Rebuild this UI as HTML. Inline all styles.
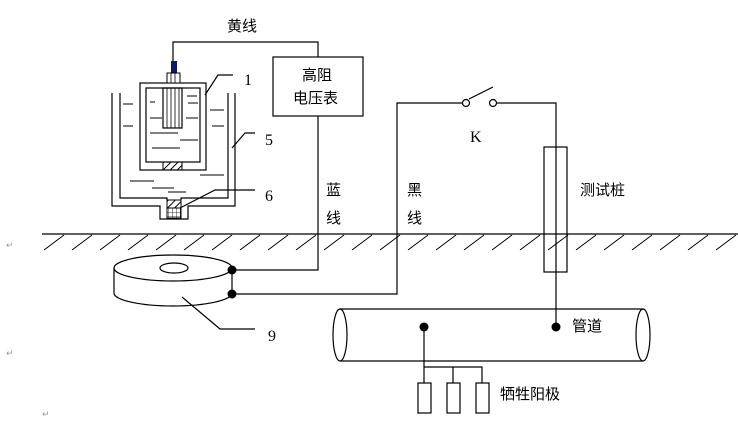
<!DOCTYPE html>
<html><head><meta charset="utf-8"><style>
html,body{margin:0;padding:0;background:#fff;}
svg{display:block;}
text{font-family:"Liberation Sans","Noto Sans CJK SC",sans-serif;font-size:15px;fill:#000;}
.s{font-family:"Liberation Serif",serif;font-size:16px;}
.r{font-size:9px;fill:#999;}
</style></head><body>
<svg width="738" height="426" viewBox="0 0 738 426" xmlns="http://www.w3.org/2000/svg">
<defs>
<pattern id="h" width="5" height="5" patternUnits="userSpaceOnUse" patternTransform="rotate(45)"><line x1="0" y1="0" x2="0" y2="5" stroke="#000" stroke-width="2"/></pattern>
<pattern id="g" width="4" height="4" patternUnits="userSpaceOnUse"><path d="M0 0H4M0 0V4" stroke="#000" stroke-width="0.8" fill="none"/></pattern>
</defs>
<g stroke="#000" stroke-width="1.2" fill="none">
<!-- ground -->
<line x1="42" y1="234" x2="738" y2="234"/>
<g id="hatch">
<path d="M44 250l20-15M72 250l20-15M100 250l20-15M128 250l20-15M156 250l20-15M184 250l20-15M212 250l20-15M240 250l20-15M268 250l20-15M296 250l20-15M324 250l20-15M352 250l20-15M380 250l20-15M408 250l20-15M436 250l20-15M464 250l20-15M492 250l20-15M520 250l20-15M548 250l20-15M576 250l20-15M604 250l20-15M632 250l20-15M660 250l20-15M688 250l20-15M716 250l20-15" stroke-width="1"/>
</g>
<!-- outer vessel -->
<path d="M112 93V206H160V219H188V206H235V93"/>
<path d="M120 93V198H167V200M181 200V198H228V93"/>
<!-- inner vessel -->
<rect x="140" y="83" width="66" height="87"/>
<rect x="146" y="88" width="54" height="74"/>
<rect x="163" y="88" width="19" height="40"/>
<path d="M167 88V128M171 88V128M175 88V128M179 88V128" stroke-width="0.8"/>
<!-- liquid dashes -->
<path d="M123 104h10M123 126h10M210 110h14M212 126h12M187 96h10M188 103h10M150 118h12M186 118h12M150 102h5M150 133h28M180 140h18M152 148h28M130 181h24M152 188h22M200 175h24M168 192h18" stroke-width="0.9"/>
<!-- leaders -->
<path d="M205 95L218 75H233M232 148L245 133H255M180 208L215 190H255M182 297L220 329H255"/>
<!-- ring -->
<ellipse cx="173" cy="268" rx="59" ry="13"/>
<path d="M114 268V293A59 13 0 0 0 232 293V268"/>
<ellipse cx="174" cy="268" rx="14" ry="5"/>
<!-- wires -->
<path d="M173 62V42H318V57"/>
<rect x="273" y="57" width="90" height="59"/>
<path d="M232 270H318V116"/>
<path d="M232 294H397V103H462M497 103H556V327"/>
<line x1="469" y1="99" x2="493" y2="87"/>
<circle cx="466" cy="103" r="3.5"/>
<circle cx="493" cy="103" r="3.5"/>
<rect x="544" y="147" width="23" height="125"/>
<!-- pipe -->
<path d="M340 309H643M340 361H643"/>
<ellipse cx="340" cy="335" rx="7" ry="26"/>
<ellipse cx="643" cy="335" rx="7" ry="26"/>
<path d="M424 327V383M424 367H482V383M453 367V383"/>
<rect x="418" y="383" width="13" height="30"/>
<rect x="447" y="383" width="13" height="30"/>
<rect x="476" y="383" width="13" height="30"/>
</g>
<rect x="171" y="61" width="6" height="12" fill="#0d1a66"/>
<rect x="167" y="73" width="13" height="10" fill="#fff" stroke="#000"/>
<path d="M171 73V83M175 73V83" stroke="#000" stroke-width="0.8"/>
<rect x="163" y="162" width="19" height="8" fill="url(#h)" stroke="#000"/>
<rect x="167" y="200" width="14" height="8" fill="url(#h)" stroke="#000"/>
<rect x="167" y="208" width="14" height="10" fill="url(#g)" stroke="#000"/>
<circle cx="232" cy="270" r="4.5" fill="#000"/>
<circle cx="232" cy="294" r="4.5" fill="#000"/>
<circle cx="424" cy="327" r="4.5" fill="#000"/>
<circle cx="556" cy="327" r="4.5" fill="#000"/>
<text x="227" y="31">黄线</text>
<text x="302" y="80">高阻</text>
<text x="293" y="103">电压表</text>
<text class="s" x="244" y="85">1</text>
<text class="s" x="265" y="145">5</text>
<text class="s" x="265" y="201">6</text>
<text class="s" x="268" y="341">9</text>
<text class="s" x="470" y="142">K</text>
<text x="326" y="195">蓝</text>
<text x="326" y="223">线</text>
<text x="407" y="195">黑</text>
<text x="407" y="223">线</text>
<text x="580" y="195">测试桩</text>
<text x="572" y="331">管道</text>
<text x="500" y="399">牺牲阳极</text>
<text class="r" x="6" y="248">↵</text>
<text class="r" x="6" y="356">↵</text>
<text class="r" x="42" y="417">↵</text>
</svg>
</body></html>
